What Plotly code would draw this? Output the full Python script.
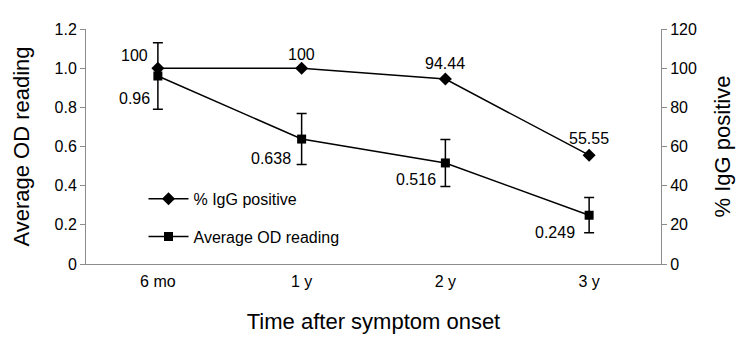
import plotly.graph_objects as go

categories = ["6 mo", "1 y", "2 y", "3 y"]
igg_pct = [100, 100, 94.44, 55.55]
igg_labels = ["100", "100", "94.44", "55.55"]
od_mean = [0.96, 0.638, 0.516, 0.249]
od_labels = ["0.96", "0.638", "0.516", "0.249"]
od_err = [0.17, 0.13, 0.12, 0.09]

left_ticks = [0, 0.2, 0.4, 0.6, 0.8, 1.0, 1.2]
left_ticktext = ["0", "0.2", "0.4", "0.6", "0.8", "1.0", "1.2"]
right_ticks = [0, 20, 40, 60, 80, 100, 120]

FONT = "Liberation Sans, Arial, sans-serif"
AX = "#8c8c8c"

fig = go.Figure()
fig.add_trace(go.Scatter(
    x=categories, y=igg_pct, name="% IgG positive", yaxis="y2",
    legendgroup="a",
    mode="lines+markers",
    line=dict(color="black", width=1.5),
    marker=dict(symbol="diamond", size=10, color="black"),
))
fig.add_trace(go.Scatter(
    x=categories, y=od_mean, name="Average OD reading", yaxis="y",
    legendgroup="b",
    mode="lines+markers",
    line=dict(color="black", width=1.5),
    marker=dict(symbol="square", size=9, color="black"),
    error_y=dict(type="data", array=od_err, visible=True, color="black",
                 thickness=1.5, width=5),
))

annotations = []
igg_shift = [(-23, 13), (0, 14), (0, 16), (0, 17)]
for c, v, t, (dx, dy) in zip(categories, igg_pct, igg_labels, igg_shift):
    annotations.append(dict(x=c, y=v, xref="x", yref="y2", text=t, showarrow=False,
                            xshift=dx, yshift=dy, font=dict(size=16, color="black", family=FONT)))
od_shift = [(-23, -22), (-31, -19), (-29, -17), (-34, -17)]
for c, v, t, (dx, dy) in zip(categories, od_mean, od_labels, od_shift):
    annotations.append(dict(x=c, y=v, xref="x", yref="y", text=t, showarrow=False,
                            xshift=dx, yshift=dy, font=dict(size=16, color="black", family=FONT)))

fig.update_layout(
    width=742, height=342,
    margin=dict(l=86, r=79, t=29, b=77),
    paper_bgcolor="white", plot_bgcolor="white",
    font=dict(family=FONT, color="black", size=16),
    showlegend=True,
    legend=dict(x=0.1, y=0.35, xanchor="left", yanchor="top",
                bgcolor="rgba(0,0,0,0)", font=dict(size=16),
                tracegroupgap=14, itemwidth=40),
    xaxis=dict(
        title=dict(text="Time after symptom onset", font=dict(size=22), standoff=24),
        type="category", range=[-0.5, 3.5],
        showline=True, linecolor=AX, linewidth=1,
        ticks="outside", ticklen=3, tickcolor="rgba(0,0,0,0)", showgrid=False,
        tickfont=dict(size=16), zeroline=False,
    ),
    yaxis=dict(
        title=dict(text="Average OD reading", font=dict(size=22), standoff=18),
        range=[0, 1.2], tickvals=left_ticks, ticktext=left_ticktext,
        showline=True, linecolor=AX, linewidth=1, ticks="outside", ticklen=5,
        tickcolor=AX, showgrid=False, zeroline=False, tickfont=dict(size=16),
    ),
    yaxis2=dict(
        title=dict(text="% IgG positive", font=dict(size=22), standoff=18),
        range=[0, 120], tickvals=right_ticks, overlaying="y", side="right",
        showline=True, linecolor=AX, linewidth=1, ticks="outside", ticklen=5,
        tickcolor=AX, showgrid=False, zeroline=False, tickfont=dict(size=16),
    ),
    annotations=annotations,
)

fig.write_html("out.html")
